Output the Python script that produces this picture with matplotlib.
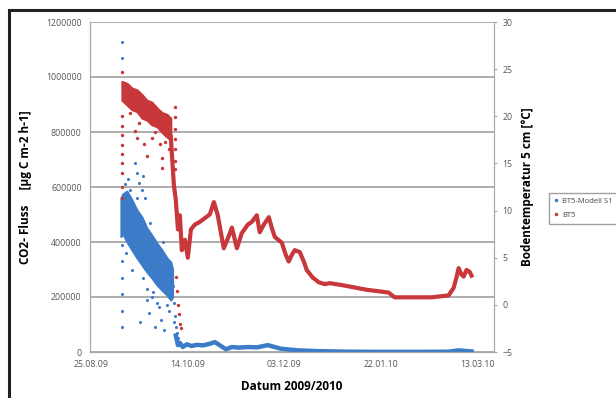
import matplotlib
matplotlib.use("Agg")
import matplotlib.pyplot as plt
import matplotlib.dates as mdates
from matplotlib.patches import Rectangle
from datetime import datetime, timedelta

plt.rcParams['font.family'] = ['Open Sans', 'DejaVu Sans']

start = datetime(2009, 8, 25)
tick_days = [0, 50, 100, 150, 200]

# --- CO2 flux (BT5-Modell S1), left axis ---
# dense cloud in Sept/Oct: day, upper and lower edge
flux_band_day = [15.5, 16.5, 18.6, 21.2, 23.8, 26.4, 28.9, 31.5, 34.1, 36.7, 39.3, 41.3, 42.2]
flux_band_hi = [560000, 575000, 585000, 553000, 516000, 490000, 451000, 425000, 396000, 371000, 342000, 327000, 300000]
flux_band_lo = [420000, 430000, 400000, 371000, 342000, 316000, 291000, 269000, 244000, 225000, 207000, 189000, 200000]

# single scattered readings
flux_pts_day = [16.0, 16.0, 16.0, 16.1, 16.0, 16.1, 16.0, 16.1, 16.0, 16.1, 16.0,
                22.7, 23.8, 24.8, 26.4, 26.9, 27.9, 28.9, 30.0, 31.5, 35.2, 36.2,
                17.5, 19.0, 25.5, 33.0, 38.0, 40.5, 21.0, 29.0, 34.0,
                20.0, 24.0, 30.5, 37.5, 18.0, 27.0, 32.0, 39.5,
                42.4, 42.9, 43.4, 43.9, 44.4, 44.9, 45.4, 44.0, 43.2]
flux_pts_val = [1127000, 1069000, 520000, 480000, 440000, 390000, 330000, 270000, 210000, 150000, 90000,
                687000, 651000, 614000, 589000, 640000, 560000, 189000, 142000, 200000, 164000, 116000,
                610000, 630000, 110000, 90000, 80000, 150000, 300000, 230000, 180000,
                590000, 560000, 470000, 400000, 360000, 270000, 220000, 170000,
                240000, 180000, 130000, 90000, 70000, 50000, 30000, 60000, 110000]

# daily flux after the drop in mid October
flux_line_day = [43.9, 45.0, 46.0, 47.5, 49.6, 52.0, 55.0, 58.0, 61.5, 64.1, 67.2, 69.8, 72.9,
                 76.5, 81.1, 86.0, 91.5, 98.2, 107.0, 118.0, 133.8, 150.0, 165.0, 185.0,
                 190.2, 195.0, 196.9]
flux_line_val = [60000, 25000, 33000, 18000, 28000, 22000, 26000, 24000, 30000, 36000, 22000,
                 10000, 18000, 16000, 18000, 17000, 25000, 12000, 6000, 3000, 1000, 500, 500, 1000,
                 6000, 3000, 2000]

# --- soil temperature BT5, right axis ---
temp_band_day = [16.0, 18.6, 21.2, 23.8, 26.4, 28.9, 31.5, 34.1, 36.7, 39.3, 41.3]
temp_band_hi = [23.7, 23.5, 23.0, 22.8, 22.3, 21.7, 21.5, 20.9, 20.4, 20.2, 19.8]
temp_band_lo = [21.7, 21.2, 20.7, 20.5, 19.8, 19.6, 19.1, 18.9, 18.3, 17.8, 17.5]

temp_pts_day = [16.0, 16.0, 16.1, 16.0, 16.1, 16.0, 16.1, 16.0, 16.1, 16.0,
                22.7, 23.8, 27.4, 28.9, 31.5, 35.7, 36.7, 36.7, 40.3,
                20.0, 25.0, 33.0, 38.5,
                43.4, 43.4, 43.4, 43.4, 43.4, 43.4, 43.4,
                43.9, 44.4, 44.9, 45.4, 45.9, 46.4]
temp_pts_val = [24.7, 20.0, 19.0, 18.0, 17.0, 16.0, 15.0, 14.0, 12.5, 11.3,
                18.4, 17.7, 17.1, 15.8, 17.7, 17.1, 15.6, 14.5, 16.5,
                20.4, 19.3, 18.3, 17.3,
                21.0, 19.9, 18.6, 17.6, 16.5, 15.3, 14.4,
                3.0, 1.5, 0.0, -1.0, -2.0, -2.5]

temp_line_day = [41.3, 42.9, 43.9, 45.0, 46.0, 47.0, 48.6, 50.1, 51.7, 53.7, 56.3, 58.9, 61.5,
                 63.6, 65.6, 68.7, 71.3, 72.9, 75.5, 78.0, 81.1, 83.2, 85.8, 87.3, 89.4, 92.0,
                 93.5, 95.1, 98.7, 100.8, 102.3, 103.9, 105.4, 108.0, 110.1, 111.6, 114.7,
                 117.8, 120.9, 123.5, 129.7, 134.9, 142.6, 150.4, 154.0, 157.1, 165.9, 176.2,
                 185.0, 187.6, 189.1, 190.2, 191.7, 192.8, 194.3, 195.9, 196.9]
temp_line_val = [17.8, 12.7, 11.1, 8.0, 9.5, 5.8, 6.9, 5.0, 8.0, 8.5, 8.8, 9.2, 9.6,
                 10.9, 9.5, 6.0, 7.3, 8.2, 6.0, 7.6, 8.5, 8.8, 9.5, 7.7, 8.5, 9.3,
                 8.2, 7.2, 6.6, 5.3, 4.6, 5.3, 5.8, 5.6, 4.6, 3.7, 2.9,
                 2.4, 2.2, 2.3, 2.1, 1.9, 1.6, 1.4, 1.3, 0.8, 0.8, 0.8,
                 1.0, 1.8, 2.9, 3.9, 3.2, 3.0, 3.7, 3.5, 3.1]


def to_dates(days):
    return [start + timedelta(days=d) for d in days]


blue = '#3c7bc8'
red = '#c8373a'

fig = plt.figure(figsize=(6.16, 3.98), dpi=100)
ax = fig.add_axes([90 / 616, 1 - 352 / 398, 404 / 616, 330 / 398])
ax2 = ax.twinx()

# flux
ax.fill_between(to_dates(flux_band_day), flux_band_lo, flux_band_hi,
                color=blue, lw=1.5, edgecolor=blue)
ax.scatter(to_dates(flux_pts_day), flux_pts_val, s=5, color=blue, lw=0)
ax.plot(to_dates(flux_line_day), flux_line_val, color=blue, lw=3.2, solid_joinstyle='round')

# temperature
ax2.fill_between(to_dates(temp_band_day), temp_band_lo, temp_band_hi,
                 color=red, lw=1.5, edgecolor=red)
ax2.scatter(to_dates(temp_pts_day), temp_pts_val, s=6, color=red, lw=0)
ax2.plot(to_dates(temp_line_day), temp_line_val, color=red, lw=3, solid_joinstyle='round')

ax.set_xlim(start - timedelta(days=0.5), start + timedelta(days=208.5))
ax.set_ylim(0, 1200000)
ax.set_yticks(range(0, 1200001, 200000))
ax.set_yticklabels([str(v) for v in range(0, 1200001, 200000)])
ax2.set_ylim(-5, 30)
ax2.set_yticks(range(-5, 31, 5))

ax.set_xticks(to_dates(tick_days))
ax.xaxis.set_major_formatter(mdates.DateFormatter('%d.%m.%y'))

ax.grid(axis='y', color='#a0a0a0', lw=1.2)
ax.set_axisbelow(True)
for a in (ax, ax2):
    for s in a.spines.values():
        s.set_color('#a8a8a8')
        s.set_linewidth(0.8)
    a.spines['top'].set_visible(False)
    a.tick_params(labelsize=6.3, labelcolor='#555555', color='#a8a8a8', length=2.5)
ax.tick_params(axis='x', length=0, pad=6)
ax.tick_params(axis='y', length=0, pad=6)

ax.set_xlabel('Datum 2009/2010', fontsize=8.5, fontweight='bold', labelpad=8)
ax.set_ylabel('CO2- Fluss     [µg C m-2 h-1]', fontsize=8.5, fontweight='bold', labelpad=10)
ax2.set_ylabel('Bodentemperatur 5 cm [°C]', fontsize=8.5, fontweight='bold', labelpad=6)

# legend, partly running past the right edge
h1 = plt.Line2D([], [], ls='none', marker='o', ms=1.5, color=blue)
h2 = plt.Line2D([], [], ls='none', marker='o', ms=1.5, color=red)
fig.legend([h1, h2], ['BT5-Modell S1', 'BT5'], loc='upper left',
           bbox_to_anchor=(545 / 616, 1 - 189 / 398), fontsize=5.5, frameon=True,
           fancybox=False, edgecolor='#888888', handlelength=0.6, handletextpad=0.5,
           borderpad=0.6, labelspacing=0.9, labelcolor='#444444')

# outer frame
fig.patches.append(Rectangle((9 / 616, -0.1), 1.2, 1.1 - 10 / 398,
                             transform=fig.transFigure, fill=False,
                             lw=2.2, edgecolor='#202020'))

fig.savefig('out.png', dpi=100)
